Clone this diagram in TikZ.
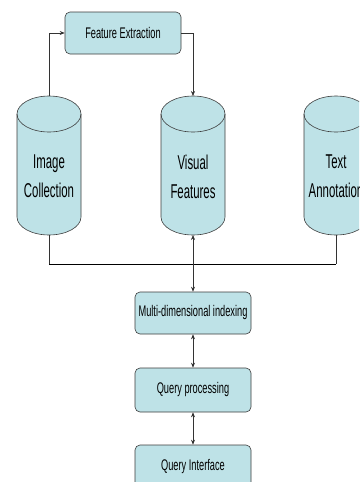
\documentclass[tikz,border=0pt]{standalone}
\usepackage{fontspec}
\setmainfont{Liberation Sans}
\newfontfamily\narrowsans[FakeStretch=0.6]{Liberation Sans}
\newfontfamily\tallsans[FakeStretch=0.57]{Liberation Sans}
\usetikzlibrary{arrows.meta}

\definecolor{dbfill}{RGB}{190,226,231}
\definecolor{dbline}{RGB}{60,60,60}

\tikzset{
  procbox/.style={draw=dbline, fill=dbfill, line width=0.6pt, rounded corners=5pt,
    minimum width=116pt, minimum height=42pt, inner sep=0pt,
    font=\narrowsans\fontsize{15.4}{18}\selectfont},
  cyllabel/.style={align=center, anchor=north, inner sep=0pt,
    font=\tallsans\fontsize{20}{29}\selectfont},
  cylbody/.style={fill=dbfill, draw=dbline, line width=0.6pt},
  link/.style={draw=black!80, line width=0.6pt},
  tip/.style={-{Stealth[length=5pt,width=4pt]}},
  twotip/.style={{Stealth[length=5pt,width=4pt]}-{Stealth[length=5pt,width=4pt]}},
}

% database cylinder: #1 name, #2 centre x, #3 label
\newcommand\dbcylinder[3]{%
  \path[cylbody] (#2-32,-114) -- (#2-32,-217)
    arc[start angle=180, end angle=360, x radius=32, y radius=18]
    -- (#2+32,-114)
    arc[start angle=0, end angle=180, x radius=32, y radius=18] -- cycle;
  \draw[dbline, line width=0.6pt] (#2-32,-114)
    arc[start angle=180, end angle=360, x radius=32, y radius=18];
  \coordinate (#1top) at (#2,-96);
  \coordinate (#1bot) at (#2,-235);
  \node[cyllabel] (#1label) at (#2,-155) {#3};
}

\begin{document}
\begin{tikzpicture}[x=1pt,y=1pt]
  \useasboundingbox (0,0) rectangle (359,-482);
  \clip (0,0) rectangle (359,-482);

  % storage
  \dbcylinder{ic}{49}{Image\\Collection}
  \dbcylinder{vf}{193}{Visual\\Features}
  \dbcylinder{ta}{336}{Text\\Annotation}

  % processing steps
  \node[procbox] (fe) at (123,-33) {Feature Extraction};
  \node[procbox] (mdi) at (193,-313) {Multi-dimensional indexing};
  \node[procbox, minimum height=44pt] (qp) at (193,-390) {Query processing};
  \node[procbox, minimum height=44pt] (qi) at (193,-467) {Query Interface};

  % feature extraction loop
  \draw[link, tip] (ictop) |- (fe.west);
  \draw[link, tip] (fe.east) -| (vftop);

  % collection bus
  \coordinate (busL) at (49,-264);
  \coordinate (busR) at (336,-264);
  \draw[link] (icbot) -- (busL);
  \draw[link] (tabot) -- (busR);
  \draw[black, line width=0.9pt] (busL) -- (busR);

  % pipeline
  \draw[link, twotip] (vfbot) -- (mdi.north);
  \draw[link, twotip] (mdi.south) -- (qp.north);
  \draw[link, twotip] (qp.south) -- (qi.north);
\end{tikzpicture}
\end{document}
